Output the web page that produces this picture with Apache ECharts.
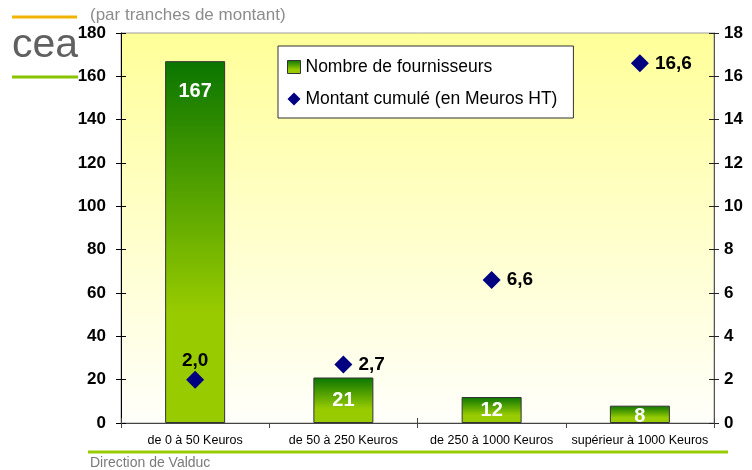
<!DOCTYPE html>
<html>
<head>
<meta charset="utf-8">
<script src="https://cdn.jsdelivr.net/npm/echarts@6/dist/echarts.min.js"></script>
<style>
  html, body { margin: 0; padding: 0; background: #fff; }
  #main { width: 752px; height: 470px; }
</style>
</head>
<body>
<div id="main"></div>
<script>
// données
const categories = ['de 0 à 50 Keuros', 'de 50 à 250 Keuros', 'de 250 à 1000 Keuros', 'supérieur à 1000 Keuros'];
const fournisseurs = [167, 21, 12, 8];
const montants = [2.0, 2.7, 6.6, 16.6];
const leftTicks = { min: 0, max: 180, interval: 20 };
const rightTicks = { min: 0, max: 18, interval: 2 };

const FONT = '"Liberation Sans", Arial, sans-serif';
const chart = echarts.init(document.getElementById('main'));

const barGradient = new echarts.graphic.LinearGradient(0, 0, 0, 1, [
    { offset: 0, color: '#0a7500' },
    { offset: 0.7, color: '#99cc00' },
    { offset: 1, color: '#99cc00' }
]);

// labels des barres : le premier en haut, les autres au milieu
const barData = fournisseurs.map((v, i) => ({
    value: v,
    label: i === 0 ? { position: 'insideTop', distance: 20 } : { position: 'inside', offset: [0, i === 3 ? 2 : 0] }
}));

// labels des losanges : le premier au-dessus, les autres à droite
const scatterData = montants.map((v, i) => ({
    value: v,
    label: i === 0 ? { position: 'top', distance: 0 } : { position: 'right', distance: 6 }
}));

const axisFont = { color: '#000', fontSize: 17, fontWeight: 'bold', fontFamily: FONT };

const option = {
    animation: false,
    grid: {
        left: 121, right: 38, top: 33, bottom: 47,
        show: true,
        backgroundColor: new echarts.graphic.LinearGradient(0, 0, 0, 1, [
            { offset: 0, color: '#ffff99' },
            { offset: 0.55, color: '#ffffcf' },
            { offset: 1, color: '#fffffb' }
        ]),
        borderColor: '#a0a0a0',
        borderWidth: 1
    },
    legend: {
        orient: 'vertical',
        left: 278, top: 46,
        padding: [12, 16, 10, 9],
        itemGap: 14,
        itemWidth: 13, itemHeight: 13,
        backgroundColor: '#fff',
        borderColor: '#333',
        borderWidth: 1,
        textStyle: { color: '#000', fontSize: 17.5, fontFamily: FONT },
        data: [
            { name: 'Nombre de fournisseurs', icon: 'rect', itemStyle: { borderColor: '#333', borderWidth: 1 } },
            { name: 'Montant cumulé (en Meuros HT)', icon: 'diamond' }
        ]
    },
    xAxis: [{
        type: 'category',
        data: categories,
        axisLine: { lineStyle: { color: '#444', width: 1 } },
        axisTick: { show: true, length: 5, lineStyle: { color: '#444' } },
        axisLabel: { color: '#000', fontSize: 12.5, fontFamily: FONT, margin: 11, interval: 0 }
    }, {
        // ticks intérieurs pour qu'ils traversent l'axe
        type: 'category',
        data: categories,
        position: 'bottom',
        offset: 0,
        axisLine: { show: false },
        axisTick: { show: true, inside: true, length: 5, lineStyle: { color: '#444' } },
        axisLabel: { show: false }
    }],
    yAxis: [{
        type: 'value',
        position: 'left',
        ...leftTicks,
        axisLine: { show: true, lineStyle: { color: '#000', width: 1 } },
        axisTick: { show: true, length: 5, lineStyle: { color: '#000' } },
        axisLabel: { ...axisFont, margin: 15 },
        splitLine: { show: false }
    }, {
        type: 'value',
        position: 'right',
        ...rightTicks,
        axisLine: { show: true, lineStyle: { color: '#555', width: 1 } },
        axisTick: { show: true, length: 5, lineStyle: { color: '#222' } },
        axisLabel: { ...axisFont, margin: 10 },
        splitLine: { show: false }
    }, {
        type: 'value',
        position: 'left',
        offset: 0,
        ...leftTicks,
        axisLine: { show: false },
        axisTick: { show: true, inside: true, length: 5, lineStyle: { color: '#000' } },
        axisLabel: { show: false },
        splitLine: { show: false }
    }, {
        type: 'value',
        position: 'right',
        offset: 0,
        ...rightTicks,
        axisLine: { show: false },
        axisTick: { show: true, inside: true, length: 5, lineStyle: { color: '#222' } },
        axisLabel: { show: false },
        splitLine: { show: false }
    }],
    series: [{
        name: 'Nombre de fournisseurs',
        type: 'bar',
        yAxisIndex: 0,
        barWidth: 60,
        data: barData,
        itemStyle: { color: barGradient, borderColor: '#333', borderWidth: 1 },
        label: {
            show: true,
            color: '#fff',
            fontSize: 20,
            fontWeight: 'bold',
            fontFamily: FONT
        }
    }, {
        name: 'Montant cumulé (en Meuros HT)',
        type: 'scatter',
        yAxisIndex: 1,
        symbol: 'diamond',
        symbolSize: 18,
        data: scatterData,
        itemStyle: { color: '#000080', opacity: 1 },
        label: {
            show: true,
            color: '#000',
            fontSize: 19,
            fontWeight: 'bold',
            fontFamily: FONT,
            formatter: p => p.value.toFixed(1).replace('.', ',')
        }
    }],
    graphic: [
        // en-tête de diapo
        { type: 'line', shape: { x1: 12, y1: 17, x2: 77, y2: 17 }, style: { stroke: '#f2b400', lineWidth: 3 } },
        { type: 'text', left: 90, top: 7, style: { text: '(par tranches de montant)', fill: '#8c8c8c', fontSize: 17, fontFamily: FONT } },
        { type: 'text', x: 12, y: 46, style: { text: 'cea', fill: '#606060', fontSize: 41, fontFamily: FONT, verticalAlign: 'middle' } },
        { type: 'line', shape: { x1: 12, y1: 77, x2: 78, y2: 77 }, style: { stroke: '#88c400', lineWidth: 3 } },
        // pied de page
        { type: 'line', shape: { x1: 88, y1: 452, x2: 728, y2: 452 }, style: { stroke: '#99cc00', lineWidth: 3 } },
        { type: 'text', left: 90, top: 456, style: { text: 'Direction de Valduc', fill: '#7a7a7a', fontSize: 14, fontFamily: FONT } }
    ]
};

chart.setOption(option);
</script>
</body>
</html>
